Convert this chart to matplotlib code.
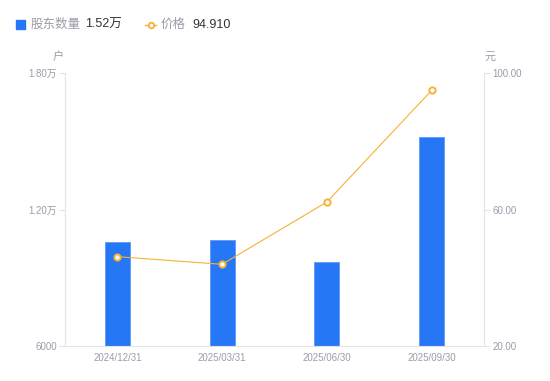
import matplotlib.pyplot as plt
from matplotlib.lines import Line2D
from matplotlib.patches import Rectangle

plt.rcParams['font.family'] = ['Liberation Sans', 'Noto Sans CJK SC', 'DejaVu Sans']

# -------------------------------------------------------
# DATOS
# -------------------------------------------------------
fechas     = ['2024/12/31', '2025/03/31', '2025/06/30', '2025/09/30']
accionistas = [10560, 10660, 9680, 15200]   # 户
precios    = [46.17, 43.94, 62.20, 94.91]    # 元

izq_ticks  = [6000, 12000, 18000]
izq_labels = ['6000', '1.20万', '1.80万']
der_ticks  = [20, 60, 100]
der_labels = ['20.00', '60.00', '100.00']

AZUL    = '#2577f5'
NARANJA = '#f7b135'
GRIS    = '#9b9bab'
EJE     = '#e3e3e8'

fig = plt.figure(figsize=(5.5, 3.81), dpi=100)
ax = fig.add_axes([65 / 550, 35 / 381, 419 / 550, 273 / 381])

x = range(len(fechas))
ax.bar(x, accionistas, width=0.24, color=AZUL, edgecolor='#5d9af7', lw=0.6, zorder=2)
ax.set_ylim(6000, 18000)
ax.set_xlim(-0.5, len(fechas) - 0.5)
ax.set_yticks(izq_ticks)
ax.set_yticklabels(izq_labels)
ax.set_xticks(list(x))
ax.set_xticklabels(fechas)

ax2 = ax.twinx()
ax2.plot(x, precios, color=NARANJA, lw=0.8, marker='o', ms=4.5,
         mfc='white', mec=NARANJA, mew=1.4, zorder=3)
ax2.set_ylim(20, 100)
ax2.set_yticks(der_ticks)
ax2.set_yticklabels(der_labels)

for a in (ax, ax2):
    for s in a.spines.values():
        s.set_visible(False)
ax.spines['left'].set_visible(True)
ax.spines['left'].set_color(EJE)
ax.spines['bottom'].set_visible(True)
ax.spines['bottom'].set_color(EJE)
ax2.spines['right'].set_visible(True)
ax2.spines['right'].set_color(EJE)

ax.tick_params(axis='y', colors=EJE, labelcolor=GRIS, labelsize=7, length=4, width=0.8, pad=2)
ax.tick_params(axis='x', length=0, labelcolor=GRIS, labelsize=7, pad=5)
ax2.tick_params(axis='y', colors=EJE, labelcolor=GRIS, labelsize=7, length=4, width=0.8, pad=2)

# unidades
fig.text(58 / 550, 1 - 57 / 381, '户', color=GRIS, fontsize=8, ha='center', va='center')
fig.text(490 / 550, 1 - 57 / 381, '元', color=GRIS, fontsize=8, ha='center', va='center')

# -------------------------------------------------------
# LEYENDA
# -------------------------------------------------------
fig.patches.append(Rectangle((16 / 550, 1 - 29 / 381), 9 / 550, 9 / 381,
                             transform=fig.transFigure, color=AZUL))
fig.text(31 / 550, 1 - 25 / 381, '股东数量', color=GRIS, fontsize=9, va='center')
fig.text(85 / 550, 1 - 25 / 381, '1.52万', color='#333333', fontsize=9, va='center')
fig.lines.append(Line2D([145 / 550, 156 / 550], [1 - 25 / 381] * 2, transform=fig.transFigure,
                        color=NARANJA, lw=1))
fig.lines.append(Line2D([150.5 / 550], [1 - 25 / 381], transform=fig.transFigure,
                        marker='o', ms=4, mfc='white', mec=NARANJA, mew=1.3))
fig.text(161 / 550, 1 - 25 / 381, '价格', color=GRIS, fontsize=9, va='center')
fig.text(192 / 550, 1 - 25 / 381, '94.910', color='#333333', fontsize=9, va='center')

fig.savefig('out.png', dpi=100)
